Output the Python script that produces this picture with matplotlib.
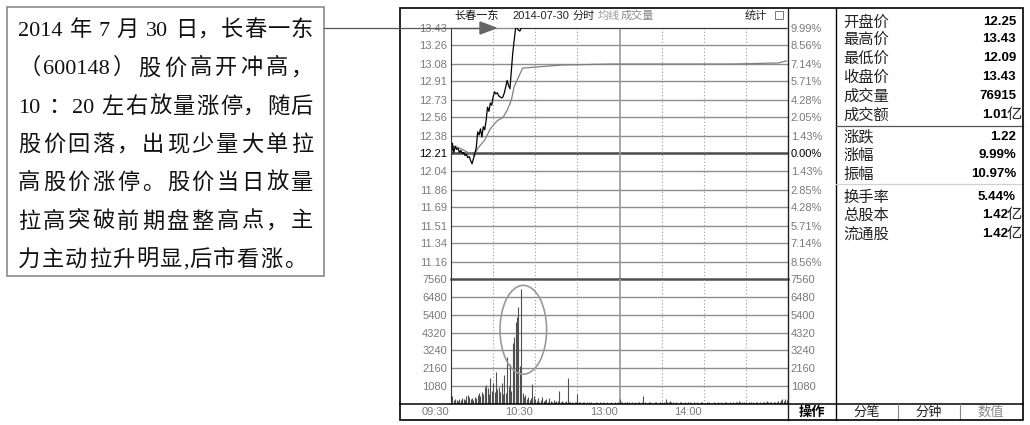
import re

import matplotlib

matplotlib.use("Agg")
import matplotlib.font_manager as fm
import matplotlib.pyplot as plt
from matplotlib.lines import Line2D
from matplotlib.patches import Ellipse, Polygon, Rectangle

# === data ===
NOTE_LINES = [
    "2014 年 7 月 30 日，长春一东",
    "（600148）股价高开冲高，",
    "10 ：20 左右放量涨停，随后",
    "股价回落，出现少量大单拉",
    "高股价涨停。股价当日放量",
    "拉高突破前期盘整高点，主",
    "力主动拉升明显,后市看涨。",
]

STOCK_NAME = "长春一东"
TRADE_DATE = "2014-07-30"
PREV_CLOSE = 12.21

PRICE_TICKS = [13.43, 13.26, 13.08, 12.91, 12.73, 12.56, 12.38, 12.21,
               12.04, 11.86, 11.69, 11.51, 11.34, 11.16]
PRICE_LABELS = ["13.43", "13.26", "13.08", "12.91", "12.73", "12.56", "12.38", "12.21",
                "12.04", "11.86", "11.69", "11.51", "11.34", "11.16"]
PCT_LABELS = ["9.99%", "8.56%", "7.14%", "5.71%", "4.28%", "2.05%", "1.43%", "0.00%",
              "1.43%", "2.85%", "4.28%", "5.71%", "7.14%", "8.56%"]
PRICE_MIN, PRICE_MAX = 10.99, 13.43

VOL_TICKS = [7560, 6480, 5400, 4320, 3240, 2160, 1080]
VOL_MAX = 7560

TIME_TICKS = [0, 60, 120, 180]
TIME_LABELS = ["09:30", "10:30", "13:00", "14:00"]
HALF_HOUR = [30, 60, 90, 150, 180, 210]
MIDDAY = 120

# price line (minute after open, price)
PRICE_T = [0, 1, 2, 3, 4, 5, 6, 7, 8, 9, 10, 11, 12, 13, 14, 15, 16, 17, 18, 19,
           20, 21, 22, 23, 24, 25, 26, 27, 28, 29, 30, 31, 32, 33, 34, 35, 36, 37, 38,
           39, 40, 41, 42, 43, 44, 45, 46, 47, 48, 49, 50, 239]
PRICE = [12.14, 12.31, 12.22, 12.28, 12.25, 12.26, 12.22, 12.24, 12.21, 12.22,
         12.19, 12.20, 12.17, 12.18, 12.14, 12.11, 12.16, 12.21, 12.27, 12.42,
         12.39, 12.45, 12.37, 12.47, 12.44, 12.53, 12.66, 12.62, 12.70, 12.68,
         12.76, 12.81, 12.79, 12.80, 12.77, 12.76, 12.75, 12.76, 12.80, 12.86,
         12.92, 12.87, 12.84, 13.02, 13.19, 13.31, 13.43, 13.43, 13.41, 13.40,
         13.43, 13.43]

# average price line
AVG_T = [0, 1, 3, 8, 12, 17, 19, 24, 28, 33, 37, 40, 43, 45, 48, 51, 60, 79, 114,
         150, 200, 233, 239]
AVG = [12.20, 12.27, 12.28, 12.25, 12.22, 12.19, 12.26, 12.34, 12.45, 12.53,
       12.56, 12.63, 12.73, 12.86, 12.95, 13.04, 13.05, 13.07, 13.08, 13.08,
       13.08, 13.09, 13.11]

# volume per minute (lots), 240 minutes
VOLUME = [
    540, 480, 220, 300, 260, 200, 330, 250, 340, 280,
    220, 480, 520, 400, 300, 360, 250, 420, 380, 560,
    640, 500, 700, 600, 1050, 1150, 950, 600, 1550, 800,
    1250, 740, 1950, 900, 1050, 740, 1250, 600, 1750, 640,
    2830, 1100, 2400, 800, 3700, 4050, 4950, 5250, 5870, 2300,
    6950, 650, 450, 540, 300, 400, 250, 350, 1230, 500,
    300, 200, 350, 150, 250, 400, 180, 220, 300, 150,
    350, 200, 150, 250, 120, 200, 180, 760, 150, 200,
    120, 100, 180, 1550, 150, 100, 120, 80, 150, 100,
    600, 120, 150, 80, 100, 150, 60, 100, 120, 80,
    100, 60, 80, 150, 50, 80, 100, 60, 120, 80,
    60, 100, 80, 50, 120, 60, 80, 100, 60, 150,
    300, 150, 100, 60, 120, 100, 80, 150, 60, 100,
    80, 120, 60, 100, 150, 80, 100, 500, 120, 80,
    60, 100, 150, 80, 60, 120, 100, 60, 80, 150,
    100, 60, 120, 300, 150, 100, 200, 120, 150, 80,
    100, 80, 60, 150, 100, 60, 80, 120, 60, 100,
    150, 60, 80, 120, 60, 100, 80, 60, 150, 100,
    60, 80, 100, 60, 120, 60, 80, 100, 60, 80,
    100, 60, 120, 80, 60, 100, 150, 80, 60, 100,
    80, 120, 60, 100, 150, 200, 120, 100, 80, 150,
    100, 80, 120, 60, 100, 150, 80, 100, 120, 60,
    100, 80, 150, 120, 100, 200, 120, 150, 100, 80,
    120, 150, 100, 200, 150, 250, 300, 200, 300, 250,
]

QUOTE_LABELS = ["开盘价", "最高价", "最低价", "收盘价", "成交量", "成交额",
                "涨跌", "涨幅", "振幅", "换手率", "总股本", "流通股"]
QUOTE_VALUES = ["12.25", "13.43", "12.09", "13.43", "76915", "1.01",
                "1.22", "9.99%", "10.97%", "5.44%", "1.42", "1.42"]
QUOTE_UNITS = ["", "", "", "", "", "亿", "", "", "", "", "亿", "亿"]
TABS = ["分笔", "分钟", "数值"]

# === layout (pixels) ===
W, H = 1030, 425
GRID = "#8e8e8e"
LABEL_GRAY = "#7a7a7a"

_names = {f.name for f in fm.fontManager.ttflist}
NUM_FONT = "Liberation Sans Narrow" if "Liberation Sans Narrow" in _names else "Liberation Sans"
CJK = "Noto Sans CJK SC"

fig = plt.figure(figsize=(W / 100, H / 100), dpi=100, facecolor="white")


def fx(x):
    return x / W


def fy(y):
    return 1 - y / H


def fline(x0, y0, x1, y1, **kw):
    fig.add_artist(Line2D([fx(x0), fx(x1)], [fy(y0), fy(y1)], transform=fig.transFigure, **kw))


def ftext(x, y, s, **kw):
    fig.text(fx(x), fy(y), s, **kw)


# --- left note box with justified lines ---
fig.add_artist(Rectangle((fx(7), fy(276)), (324 - 7) / W, (276 - 7) / H, transform=fig.transFigure,
                         fill=False, edgecolor="#808080", linewidth=1.1))
note_kw = dict(fontsize=16, family=["Liberation Serif", CJK], color="#111111")
renderer = fig.canvas.get_renderer()
for i, line in enumerate(NOTE_LINES):
    last = i == len(NOTE_LINES) - 1
    tokens = re.findall(r"\d+|\s|\S", line)
    widths = []
    for tok in tokens:
        if tok == " ":
            widths.append(5)
            continue
        t = fig.text(0, 0, tok, **note_kw)
        widths.append(t.get_window_extent(renderer).width)
        t.remove()
    right = 306 if last else 313
    gap = (right - 18 - sum(widths)) / (len(tokens) - 1)
    x = 18
    base = 28 + i * 38.3 + 8
    for tok, w in zip(tokens, widths):
        if tok != " ":
            ftext(x, base, tok, ha="left", va="baseline", **note_kw)
        x += w + gap

# --- price panel ---
ax_p = fig.add_axes([fx(451), fy(279), (788 - 451) / W, (279 - 28) / H])
ax_v = fig.add_axes([fx(451), fy(404), (788 - 451) / W, (404 - 279) / H])
for ax in (ax_p, ax_v):
    ax.set_xlim(0, 240)
    ax.set_xticks([])
    for sp in ax.spines.values():
        sp.set_visible(False)

ax_p.set_ylim(PRICE_MIN, PRICE_MAX)
ax_v.set_ylim(0, VOL_MAX)

for v in PRICE_TICKS:
    ax_p.axhline(v, color=GRID, linewidth=1.0, clip_on=False, zorder=1)
ax_p.axhline(PREV_CLOSE, color="#505050", linewidth=1.8, zorder=1)
for v in VOL_TICKS[1:]:
    ax_v.axhline(v, color=GRID, linewidth=1.0, zorder=1)
ax_v.axhline(VOL_MAX, color="#505050", linewidth=1.8, clip_on=False, zorder=1)

for ax in (ax_p, ax_v):
    for m in HALF_HOUR:
        ax.axvline(m, color="#9a9a9a", linewidth=0.8, linestyle=(0, (1, 2)), zorder=1)
    ax.axvline(MIDDAY, color="#9a9a9a", linewidth=1.2, zorder=1)

ax_p.plot(AVG_T, AVG, color="#808080", linewidth=0.9, zorder=3)
ax_p.plot(PRICE_T, PRICE, color="black", linewidth=0.9, zorder=4)

ax_v.vlines(range(len(VOLUME)), 0, VOLUME, color="#505050", linewidth=0.8, zorder=3)
ax_v.add_patch(Ellipse((51.5, 4490), 33.2, 5370, fill=False, edgecolor="#9a9a9a",
                       linewidth=1.2, clip_on=False, zorder=5))

# tick labels both sides
num_kw = dict(labelsize=8, length=0, labelcolor=LABEL_GRAY)
ax_p.set_yticks(PRICE_TICKS, labels=PRICE_LABELS)
ax_p.tick_params(axis="y", pad=3, **num_kw)
ax_pr = ax_p.twinx()
ax_pr.set_ylim(PRICE_MIN, PRICE_MAX)
ax_pr.set_yticks(PRICE_TICKS, labels=PCT_LABELS)
ax_pr.tick_params(axis="y", pad=2, **num_kw)
ax_v.set_yticks(VOL_TICKS, labels=[str(v) for v in VOL_TICKS])
ax_v.tick_params(axis="y", pad=3, **num_kw)
ax_vr = ax_v.twinx()
ax_vr.set_ylim(0, VOL_MAX)
ax_vr.set_yticks(VOL_TICKS, labels=[str(v) for v in VOL_TICKS])
ax_vr.tick_params(axis="y", pad=2, **num_kw)
for ax in (ax_pr, ax_vr):
    for sp in ax.spines.values():
        sp.set_visible(False)
for ax in (ax_p, ax_pr, ax_v, ax_vr):
    for lbl in ax.get_yticklabels():
        lbl.set_fontfamily(NUM_FONT)
ax_p.get_yticklabels()[PRICE_LABELS.index("12.21")].set_color("black")
ax_pr.get_yticklabels()[PCT_LABELS.index("0.00%")].set_color("black")

for m, lab in zip(TIME_TICKS, TIME_LABELS):
    ax_v.annotate(lab, xy=(m, 0), xycoords=("data", "axes fraction"), xytext=(-2, -8),
                  textcoords="offset pixels", ha="right", va="center", fontsize=8,
                  family=NUM_FONT, color=LABEL_GRAY, annotation_clip=False)

# --- header ---
hdr = dict(fontsize=8, va="center")
ftext(454, 16, STOCK_NAME, family=CJK, color="#111111", **hdr)
ftext(512, 16, TRADE_DATE, family=NUM_FONT, color="#222222", **hdr)
ftext(573, 16, "分时", family=CJK, color="#222222", **hdr)
ftext(598, 16, "均线", family=CJK, color="#9a9a9a", **hdr)
ftext(621, 16, "成交量", family=CJK, color="#8a8a8a", **hdr)
ftext(745, 15, "统计", family=CJK, color="#222222", **hdr)
fig.add_artist(Rectangle((fx(775), fy(19)), 8 / W, 8 / H, transform=fig.transFigure,
                         fill=False, edgecolor="#777777", linewidth=0.7))

# --- frame ---
fig.add_artist(Rectangle((fx(400), fy(420)), (1023 - 400) / W, (420 - 8) / H, transform=fig.transFigure,
                         fill=False, edgecolor="black", linewidth=1.2, zorder=6))
fline(451, 28, 451, 404, color="#333333", linewidth=0.8)
fline(788, 8, 788, 420, color="#222222", linewidth=1.0)
fline(836, 8, 836, 420, color="black", linewidth=1.0)
fline(400, 404, 1023, 404, color="black", linewidth=1.1)
fline(898, 404, 898, 420, color="#888888", linewidth=0.8)
fline(960, 404, 960, 420, color="#888888", linewidth=0.8)
fline(836, 126, 1023, 126, color="#555555", linewidth=0.9)
fline(836, 184, 1023, 184, color="#d0d0d0", linewidth=0.9)

# --- quote panel ---
row_y = [22, 39, 58, 77, 96, 115, 137, 155, 174, 197, 215, 234]
for lab, val, unit, y in zip(QUOTE_LABELS, QUOTE_VALUES, QUOTE_UNITS, row_y):
    ftext(843, y, lab, family=CJK, fontsize=11, color="#222222", va="center")
    if unit:
        ftext(1022, y, unit, family=CJK, fontsize=11, color="#222222", ha="right", va="center")
        ftext(1008, y, val, family="Liberation Sans", fontsize=9.5, fontweight="bold",
              color="black", ha="right", va="center")
    else:
        ftext(1016, y, val, family="Liberation Sans", fontsize=9.5, fontweight="bold",
              color="black", ha="right", va="center")

ftext(812, 412, "操作", family=CJK, fontsize=9.5, fontweight="bold", color="black", ha="center", va="center")
for lab, cx, col in zip(TABS, [867, 929, 991], ["#222222", "#222222", "#8a8a8a"]):
    ftext(cx, 412, lab, family=CJK, fontsize=9.5, color=col, ha="center", va="center")

# --- pointer from note box to the stock name ---
fline(324, 28, 482, 28, color="#555555", linewidth=0.9, zorder=7)
fig.add_artist(Polygon([(fx(480), fy(22)), (fx(496), fy(28)), (fx(480), fy(34))], closed=True,
                       transform=fig.transFigure, facecolor="#666666", edgecolor="#666666", zorder=7))

fig.savefig("out.png", dpi=100, facecolor="white")
